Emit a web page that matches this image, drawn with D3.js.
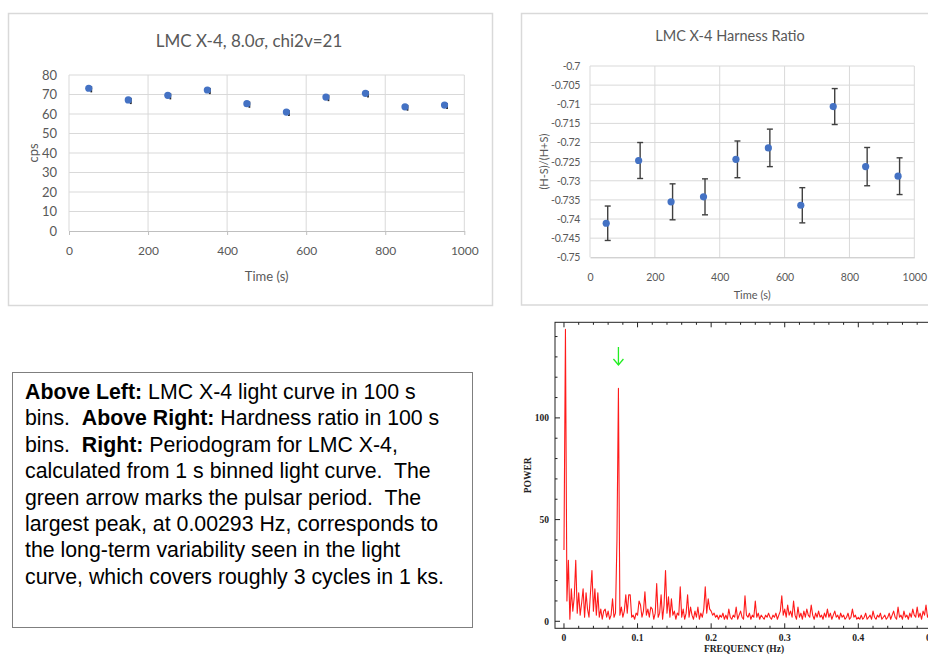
<!DOCTYPE html>
<html>
<head>
<meta charset="utf-8">
<script src="https://cdn.jsdelivr.net/npm/d3@7"></script>
<style>
  html, body { margin: 0; padding: 0; background: #fff; }
  svg { display: block; }
</style>
</head>
<body>
<svg id="fig" width="928" height="654"></svg>
<script>
// ---- Light curve, 100 s bins ----
const lcTime = [50, 150, 250, 350, 450, 550, 650, 750, 850, 950];
const lcRate = [73.2, 67.2, 69.6, 72.3, 65.3, 61.0, 68.7, 70.6, 63.7, 64.6];
const lcErr = [1.6, 1.6, 1.6, 1.6, 1.6, 1.5, 1.6, 1.6, 1.5, 1.5];
const lcYTicks = [0, 10, 20, 30, 40, 50, 60, 70, 80];
const timeTicks = [0, 200, 400, 600, 800, 1000];

// ---- Hardness ratio, 100 s bins ----
const hrTime = [50, 150, 250, 350, 450, 550, 650, 750, 850, 950];
const hrRatio = [-0.7411, -0.7247, -0.7355, -0.7342, -0.7244, -0.7214, -0.7364, -0.7106, -0.7263, -0.7288];
const hrErr = [0.0045, 0.0047, 0.0047, 0.0047, 0.0048, 0.0049, 0.0046, 0.0047, 0.0050, 0.0048];
const hrYTicks = [-0.75, -0.745, -0.74, -0.735, -0.73, -0.725, -0.72, -0.715, -0.71, -0.705, -0.7];
const hrYLabels = ["-0.75", "-0.745", "-0.74", "-0.735", "-0.73", "-0.725", "-0.72", "-0.715", "-0.71", "-0.705", "-0.7"];

// ---- Periodogram from 1 s binned light curve (0.002 Hz bins, 0 to 0.5 Hz) ----
const psdStep = 0.002;
const psdPower = [
  35, 143.5, 10, 30, 1, 16, 5, 12, 30, 4,
  14, 3, 9, 16, 2, 14, 6, 2, 14, 25,
  5, 16, 3, 14, 2, 6, 1, 5, 6, 2,
  5, 1, 3, 11, 2, 4, 40, 114.5, 3, 7,
  2, 5, 13, 4, 13, 13, 2, 3, 1, 4,
  3, 10, 8, 2, 5, 14.5, 3, 6, 2, 7,
  6, 1, 4, 18.5, 2, 4, 13, 1, 8, 25,
  4, 12, 2, 11, 3, 5, 1, 4, 3, 17,
  2, 6, 1, 4, 13, 2, 7, 3, 1, 5,
  2, 7, 1, 4, 2, 6, 17, 4, 11, 6,
  5, 3, 4, 2, 3, 1, 3, 2, 4, 1,
  3, 1, 6, 2, 1, 3, 2, 7, 1, 3,
  5, 2, 1, 12.5, 3, 2, 4, 1, 3, 2,
  10, 2, 4, 1, 3, 2, 1, 3, 2, 4,
  2, 1, 3, 2, 4, 1, 3, 5, 12.5, 3,
  6, 2, 8, 3, 5, 2, 10, 3, 1, 7,
  2, 4, 1, 5, 2, 6, 3, 2, 8, 3,
  1, 4, 2, 5, 2, 3, 1, 4, 2, 6,
  2, 4, 1, 3, 5, 2, 3, 1, 4, 2,
  3, 1, 2, 4, 1, 2, 6, 2, 3, 1,
  2, 1, 3, 1, 2, 4, 1, 2, 3, 1,
  5, 2, 1, 3, 2, 4, 1, 2, 3, 1,
  2, 4, 1, 3, 5, 2, 1, 7, 2, 3,
  1, 5, 2, 3, 1, 4, 2, 6, 3, 2,
  7, 2, 4, 1, 5, 3, 8, 2, 4, 3,
  6
];
const psdXTicks = [0, 0.1, 0.2, 0.3, 0.4, 0.5];
const psdXLabels = ["0", "0.1", "0.2", "0.3", "0.4", "0.5"];
const psdYTicks = [0, 50, 100];
const pulsarFreq = 0.074;

// ---- Caption lines: [text, bold] runs ----
const captionLines = [
  [["Above Left:", true], [" LMC X-4 light curve in 100 s", false]],
  [["bins.  ", false], ["Above Right:", true], [" Hardness ratio in 100 s", false]],
  [["bins.  ", false], ["Right:", true], [" Periodogram for LMC X-4,", false]],
  [["calculated from 1 s binned light curve.  The", false]],
  [["green arrow marks the pulsar period.  The", false]],
  [["largest peak, at 0.00293 Hz, corresponds to", false]],
  [["the long-term variability seen in the light", false]],
  [["curve, which covers roughly 3 cycles in 1 ks.", false]]
];

const svg = d3.select("#fig");
svg.append("rect").attr("width", 928).attr("height", 654).attr("fill", "#fff");

const excelFont = "Lato, 'Open Sans', sans-serif";
const gridCol = "#d9d9d9";
const labelCol = "#595959";
const markerCol = "#4472c4";

// ================= Light curve panel =================
(function () {
  const g = svg.append("g");
  g.append("rect").attr("x", 8.5).attr("y", 13.5).attr("width", 484).attr("height", 292)
    .attr("fill", "#fff").attr("stroke", gridCol).attr("stroke-width", 1.5);

  const x = d3.scaleLinear().domain([0, 1000]).range([69, 464.3]);
  const y = d3.scaleLinear().domain([0, 80]).range([231, 75]);

  g.append("g").selectAll("line").data(lcYTicks.filter(d => d !== 0)).join("line")
    .attr("x1", x(0)).attr("x2", x(1000)).attr("y1", d => y(d)).attr("y2", d => y(d))
    .attr("stroke", gridCol);
  g.append("g").selectAll("line").data(timeTicks).join("line")
    .attr("x1", d => x(d)).attr("x2", d => x(d)).attr("y1", y(0)).attr("y2", y(80))
    .attr("stroke", gridCol);

  const xAxis = d3.axisBottom(x).tickValues(timeTicks).tickFormat(d => String(d))
    .tickSize(4).tickSizeOuter(0).tickPadding(11);
  const xa = g.append("g").attr("transform", `translate(0,${y(0)})`).call(xAxis);
  xa.select(".domain").attr("stroke", "#bfbfbf");
  xa.selectAll(".tick line").attr("stroke", "#bfbfbf");
  xa.selectAll("text").attr("fill", labelCol).attr("font-family", excelFont).attr("font-size", 12);

  const yAxis = d3.axisLeft(y).tickValues(lcYTicks).tickSize(0).tickPadding(12);
  const ya = g.append("g").attr("transform", `translate(${x(0)},0)`).call(yAxis);
  ya.select(".domain").remove();
  ya.selectAll("text").attr("fill", labelCol).attr("font-family", excelFont).attr("font-size", 13);

  g.append("text").attr("x", 249).attr("y", 47).attr("text-anchor", "middle")
    .attr("font-family", excelFont).attr("font-size", 17).attr("fill", labelCol)
    .call(t => {
      t.append("tspan").text("LMC X-4, 8.0");
      t.append("tspan").attr("font-style", "italic").text("σ");
      t.append("tspan").text(", chi2v=21");
    });
  g.append("text").attr("x", (x(0) + x(1000)) / 2).attr("y", 281).attr("text-anchor", "middle")
    .attr("font-family", excelFont).attr("font-size", 13).attr("fill", labelCol).text("Time (s)");
  g.append("text").attr("transform", `translate(38,${(y(0) + y(80)) / 2}) rotate(-90)`)
    .attr("text-anchor", "middle").attr("font-family", excelFont).attr("font-size", 13)
    .attr("fill", labelCol).text("cps");

  const pts = lcTime.map((t, i) => ({ t, v: lcRate[i], e: lcErr[i] }));
  g.append("g").selectAll("line").data(pts).join("line")
    .attr("x1", d => x(d.t) + 2.5).attr("x2", d => x(d.t) + 2.5)
    .attr("y1", d => y(d.v - d.e) + 1).attr("y2", d => y(d.v + d.e) + 1)
    .attr("stroke", "#262626").attr("stroke-width", 1.8);
  g.append("g").selectAll("circle").data(pts).join("circle")
    .attr("cx", d => x(d.t)).attr("cy", d => y(d.v)).attr("r", 3.6)
    .attr("fill", markerCol);
})();

// ================= Hardness ratio panel =================
(function () {
  const g = svg.append("g");
  g.append("rect").attr("x", 521.5).attr("y", 13.5).attr("width", 420).attr("height", 291.5)
    .attr("fill", "#fff").attr("stroke", gridCol).attr("stroke-width", 1.5);

  const x = d3.scaleLinear().domain([0, 1000]).range([590, 914.3]);
  const y = d3.scaleLinear().domain([-0.75, -0.7]).range([257.3, 66]);

  g.append("g").selectAll("line").data(hrYTicks.slice(1)).join("line")
    .attr("x1", x(0)).attr("x2", x(1000)).attr("y1", d => y(d)).attr("y2", d => y(d))
    .attr("stroke", gridCol);
  g.append("g").selectAll("line").data(timeTicks).join("line")
    .attr("x1", d => x(d)).attr("x2", d => x(d)).attr("y1", y(-0.75)).attr("y2", y(-0.7))
    .attr("stroke", gridCol);

  const xAxis = d3.axisBottom(x).tickValues(timeTicks).tickFormat(d => String(d))
    .tickSize(0).tickPadding(16);
  const xa = g.append("g").attr("transform", `translate(0,${y(-0.75)})`).call(xAxis);
  xa.select(".domain").attr("stroke", "#bfbfbf");
  xa.selectAll("text").attr("fill", labelCol).attr("font-family", excelFont).attr("font-size", 10.5);

  const yAxis = d3.axisLeft(y).tickValues(hrYTicks).tickSize(0).tickPadding(10)
    .tickFormat((d, i) => hrYLabels[i]);
  const ya = g.append("g").attr("transform", `translate(${x(0)},0)`).call(yAxis);
  ya.select(".domain").remove();
  ya.selectAll("text").attr("fill", labelCol).attr("font-family", excelFont).attr("font-size", 10.5)
    .attr("letter-spacing", -0.3);

  g.append("text").attr("x", 730).attr("y", 41).attr("text-anchor", "middle")
    .attr("font-family", excelFont).attr("font-size", 14.5).attr("fill", labelCol)
    .text("LMC X-4 Harness Ratio");
  g.append("text").attr("x", (x(0) + x(1000)) / 2).attr("y", 299).attr("text-anchor", "middle")
    .attr("font-family", excelFont).attr("font-size", 11).attr("fill", labelCol).text("Time (s)");
  g.append("text").attr("transform", `translate(548,${(y(-0.75) + y(-0.7)) / 2}) rotate(-90)`)
    .attr("text-anchor", "middle").attr("font-family", excelFont).attr("font-size", 11)
    .attr("fill", labelCol).text("(H-S)/(H+S)");

  const pts = hrTime.map((t, i) => ({ t, v: hrRatio[i], e: hrErr[i] }));
  const eb = g.append("g").attr("stroke", "#404040").attr("stroke-width", 1.4);
  eb.selectAll("line.v").data(pts).join("line").attr("class", "v")
    .attr("x1", d => x(d.t) + 1.5).attr("x2", d => x(d.t) + 1.5)
    .attr("y1", d => y(d.v - d.e)).attr("y2", d => y(d.v + d.e));
  eb.selectAll("line.top").data(pts).join("line").attr("class", "top")
    .attr("x1", d => x(d.t) - 1.5).attr("x2", d => x(d.t) + 4.5)
    .attr("y1", d => y(d.v + d.e)).attr("y2", d => y(d.v + d.e));
  eb.selectAll("line.bot").data(pts).join("line").attr("class", "bot")
    .attr("x1", d => x(d.t) - 1.5).attr("x2", d => x(d.t) + 4.5)
    .attr("y1", d => y(d.v - d.e)).attr("y2", d => y(d.v - d.e));
  g.append("g").selectAll("circle").data(pts).join("circle")
    .attr("cx", d => x(d.t)).attr("cy", d => y(d.v)).attr("r", 3.6)
    .attr("fill", markerCol);
})();

// ================= Caption box =================
(function () {
  const g = svg.append("g");
  g.append("rect").attr("x", 12.5).attr("y", 372.5).attr("width", 460).attr("height", 255)
    .attr("fill", "#fff").attr("stroke", "#7f7f7f").attr("stroke-width", 1);
  const txt = g.append("text").attr("font-family", "'Liberation Sans', Arial, sans-serif")
    .attr("font-size", 21.3).attr("fill", "#000").attr("xml:space", "preserve")
    .style("white-space", "pre");
  captionLines.forEach((runs, i) => {
    const line = txt.append("tspan").attr("x", 25).attr("y", 399 + i * 26.4);
    runs.forEach(([s, bold]) => {
      line.append("tspan").attr("font-weight", bold ? "bold" : "normal").text(s);
    });
  });
})();

// ================= Periodogram panel =================
(function () {
  const g = svg.append("g");
  const serif = "'Liberation Serif', 'Times New Roman', serif";
  const x = d3.scaleLinear().domain([-0.0122, 0.5015]).range([555, 933]);
  const y = d3.scaleLinear().domain([-3.45, 147]).range([628.3, 322.3]);
  const [x0, x1] = x.range();
  const [yb, yt] = y.range();

  const clip = g.append("clipPath").attr("id", "psdClip");
  clip.append("rect").attr("x", x0).attr("y", yt).attr("width", x1 - x0).attr("height", yb - yt);

  const freqs = psdPower.map((p, i) => i * psdStep);
  const line = d3.line().x((d, i) => x(freqs[i])).y(d => y(d));
  g.append("path").datum(psdPower).attr("d", line).attr("clip-path", "url(#psdClip)")
    .attr("fill", "none").attr("stroke", "#ff1a1a").attr("stroke-width", 1.1)
    .attr("stroke-linejoin", "round");

  // frame
  g.append("rect").attr("x", x0).attr("y", yt).attr("width", x1 - x0).attr("height", yb - yt)
    .attr("fill", "none").attr("stroke", "#222").attr("stroke-width", 1);

  // inward ticks on all four sides
  const xMinor = d3.range(0, 0.5001, 0.02);
  const yMinor = d3.range(0, 141, 10);
  const tk = g.append("g").attr("stroke", "#222").attr("stroke-width", 1);
  xMinor.forEach(f => {
    const major = psdXTicks.some(t => Math.abs(t - f) < 1e-6);
    const len = major ? 5 : 2.5;
    tk.append("line").attr("x1", x(f)).attr("x2", x(f)).attr("y1", yb).attr("y2", yb - len);
    tk.append("line").attr("x1", x(f)).attr("x2", x(f)).attr("y1", yt).attr("y2", yt + len);
  });
  yMinor.forEach(v => {
    const major = psdYTicks.includes(v);
    const len = major ? 5 : 2.5;
    tk.append("line").attr("x1", x0).attr("x2", x0 + len).attr("y1", y(v)).attr("y2", y(v));
    tk.append("line").attr("x1", x1).attr("x2", x1 - len).attr("y1", y(v)).attr("y2", y(v));
  });

  g.append("g").selectAll("text").data(psdXTicks).join("text")
    .attr("x", d => x(d)).attr("y", 641).attr("text-anchor", "middle")
    .attr("font-family", serif).attr("font-weight", "bold").attr("font-size", 9.5)
    .attr("fill", "#222").text((d, i) => psdXLabels[i]);
  g.append("g").selectAll("text").data(psdYTicks).join("text")
    .attr("x", 549).attr("y", d => y(d) + 3.5).attr("text-anchor", "end")
    .attr("font-family", serif).attr("font-weight", "bold").attr("font-size", 9.5)
    .attr("fill", "#222").text(d => d);

  g.append("text").attr("x", 744).attr("y", 652).attr("text-anchor", "middle")
    .attr("font-family", serif).attr("font-weight", "bold").attr("font-size", 9.5)
    .attr("fill", "#222").text("FREQUENCY (Hz)");
  g.append("text").attr("transform", `translate(531,${(yb + yt) / 2}) rotate(-90)`)
    .attr("text-anchor", "middle").attr("font-family", serif).attr("font-weight", "bold")
    .attr("font-size", 9.5).attr("fill", "#222").text("POWER");

  // arrow marking the pulsar frequency
  const ax = x(pulsarFreq);
  const arr = g.append("g").attr("stroke", "#22ee22").attr("stroke-width", 1.3).attr("fill", "none");
  arr.append("line").attr("x1", ax).attr("x2", ax).attr("y1", 347).attr("y2", 365);
  arr.append("polyline").attr("points", `${ax - 5},${359} ${ax},${365} ${ax + 5},${359}`);
})();
</script>
</body>
</html>
